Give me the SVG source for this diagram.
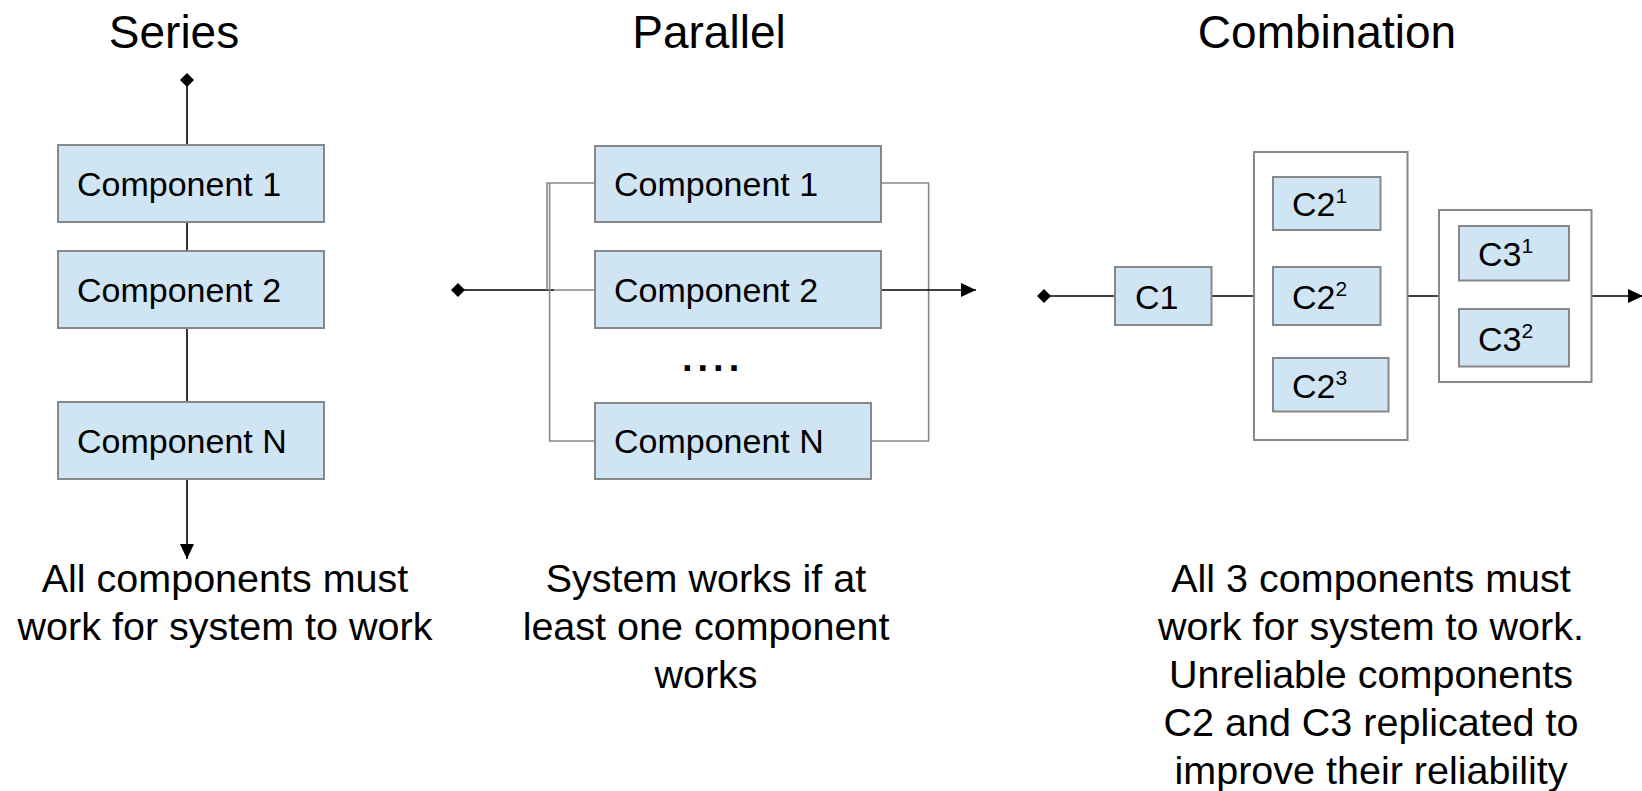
<svg xmlns="http://www.w3.org/2000/svg" width="1642" height="791" viewBox="0 0 1642 791">
<style>
text { font-family: "Liberation Sans", Arial, sans-serif; fill: #000; }
.title { font-size: 46px; text-anchor: middle; }
.cap { font-size: 39.5px; text-anchor: middle; }
.lbl { font-size: 34px; }
.sup { font-size: 21px; }
.box { fill: #cfe5f3; stroke: #888; stroke-width: 2; }
.cont { fill: #fff; stroke: #888; stroke-width: 2; }
.wire { fill: none; stroke: #000; stroke-width: 1.6; }
.bus { fill: none; stroke: #888; stroke-width: 1.6; }
</style>
<defs>
<marker id="arrow" markerUnits="userSpaceOnUse" markerWidth="16" markerHeight="16" refX="15" refY="7" orient="auto">
<path d="M0,0 L15,7 L0,14 z" fill="#000"/>
</marker>
<marker id="dia" markerUnits="userSpaceOnUse" markerWidth="16" markerHeight="16" refX="7" refY="7" orient="auto">
<path d="M0,7 L7,0 L14,7 L7,14 z" fill="#000"/>
</marker>
</defs>
<rect width="1642" height="791" fill="#fff"/>

<g id="titles">
<text class="title" x="174" y="48">Series</text>
<text class="title" x="709" y="48">Parallel</text>
<text class="title" x="1327" y="48">Combination</text>
</g>

<g id="connectors">
<!-- series -->
<line class="wire" x1="187" y1="80" x2="187" y2="559" marker-start="url(#dia)" marker-end="url(#arrow)"/>
<!-- parallel -->
<line class="wire" x1="458" y1="290" x2="554" y2="290" marker-start="url(#dia)"/>
<path class="bus" d="M596,183 H547 V290"/>
<path class="bus" d="M596,441 H549.6 V183"/>
<line class="bus" x1="554" y1="290" x2="596" y2="290"/>
<path class="bus" d="M881,183 H928.6 V441 H871"/>
<line class="wire" x1="881" y1="290" x2="976" y2="290" marker-end="url(#arrow)"/>
<!-- combination -->
<line class="wire" x1="1044" y1="296" x2="1643" y2="296" marker-start="url(#dia)" marker-end="url(#arrow)"/>
</g>

<g id="series-c1"><rect class="box" x="58" y="145" width="266" height="77"/><text class="lbl" x="77" y="196">Component 1</text></g>
<g id="series-c2"><rect class="box" x="58" y="251" width="266" height="77"/><text class="lbl" x="77" y="302">Component 2</text></g>
<g id="series-cn"><rect class="box" x="58" y="402" width="266" height="77"/><text class="lbl" x="77" y="453">Component N</text></g>

<g id="par-c1"><rect class="box" x="595" y="146" width="286" height="76"/><text class="lbl" x="614" y="196">Component 1</text></g>
<g id="par-c2"><rect class="box" x="595" y="251" width="286" height="77"/><text class="lbl" x="614" y="302">Component 2</text></g>
<g id="par-dots"><text class="lbl" x="682" y="371" style="font-size:38px;letter-spacing:5px;font-weight:bold">....</text></g>
<g id="par-cn"><rect class="box" x="595" y="403" width="276" height="76"/><text class="lbl" x="614" y="453">Component N</text></g>

<g id="comb-c1"><rect class="box" x="1115" y="267" width="96.5" height="58"/><text class="lbl" x="1135" y="309">C1</text></g>
<g id="comb-c2">
<rect class="cont" x="1254" y="152" width="153.5" height="288"/>
<g id="comb-c2-1"><rect class="box" x="1273" y="177" width="107.5" height="53"/><text class="lbl" x="1292" y="216">C2<tspan class="sup" dy="-13">1</tspan></text></g>
<g id="comb-c2-2"><rect class="box" x="1273" y="267" width="107.5" height="58"/><text class="lbl" x="1292" y="309">C2<tspan class="sup" dy="-13">2</tspan></text></g>
<g id="comb-c2-3"><rect class="box" x="1273" y="358" width="115.5" height="53.5"/><text class="lbl" x="1292" y="398">C2<tspan class="sup" dy="-13">3</tspan></text></g>
</g>
<g id="comb-c3">
<rect class="cont" x="1439" y="210" width="152.5" height="172"/>
<g id="comb-c3-1"><rect class="box" x="1459" y="226" width="110" height="54.5"/><text class="lbl" x="1478" y="266">C3<tspan class="sup" dy="-13">1</tspan></text></g>
<g id="comb-c3-2"><rect class="box" x="1459" y="309" width="110" height="57.5"/><text class="lbl" x="1478" y="351">C3<tspan class="sup" dy="-13">2</tspan></text></g>
</g>

<g id="captions">
<text class="cap" x="225" y="592">All components must</text>
<text class="cap" x="225" y="640">work for system to work</text>
<text class="cap" x="706" y="592">System works if at</text>
<text class="cap" x="706" y="640">least one component</text>
<text class="cap" x="706" y="688">works</text>
<text class="cap" x="1371" y="592">All 3 components must</text>
<text class="cap" x="1371" y="640">work for system to work.</text>
<text class="cap" x="1371" y="688">Unreliable components</text>
<text class="cap" x="1371" y="736">C2 and C3 replicated to</text>
<text class="cap" x="1371" y="784">improve their reliability</text>
</g>
</svg>
